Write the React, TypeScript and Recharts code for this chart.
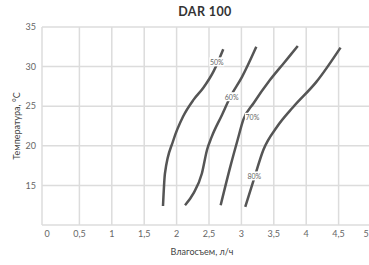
import React from 'react';
import { LineChart, Line, XAxis, YAxis, ReferenceLine, ReferenceDot } from 'recharts';

const xTicks = [0, 0.5, 1, 1.5, 2, 2.5, 3, 3.5, 4, 4.5, 5];
const yTicks = [15, 20, 25, 30, 35];
const gridX = [0.5, 1, 1.5, 2, 2.5, 3, 3.5, 4, 4.5];
const gridY = [15, 20, 25, 30, 35];

const rh50 = [
  { x: 1.79, y: 12.4 }, { x: 1.82, y: 16.5 }, { x: 1.95, y: 20.7 }, { x: 2.1, y: 23.7 },
  { x: 2.26, y: 25.8 }, { x: 2.41, y: 27.3 }, { x: 2.57, y: 29.4 }, { x: 2.72, y: 32.2 },
];
const rh60 = [
  { x: 2.13, y: 12.5 }, { x: 2.26, y: 14.0 }, { x: 2.39, y: 16.5 }, { x: 2.47, y: 19.5 },
  { x: 2.54, y: 21.1 }, { x: 2.7, y: 23.9 }, { x: 2.83, y: 26.2 }, { x: 3.01, y: 28.7 }, { x: 3.23, y: 32.5 },
];
const rh70 = [
  { x: 2.68, y: 12.5 }, { x: 2.83, y: 17.4 }, { x: 2.94, y: 20.7 }, { x: 3.03, y: 23.3 },
  { x: 3.19, y: 25.4 }, { x: 3.44, y: 28.3 }, { x: 3.65, y: 30.4 }, { x: 3.87, y: 32.6 },
];
const rh80 = [
  { x: 3.06, y: 12.3 }, { x: 3.19, y: 15.7 }, { x: 3.34, y: 19.5 }, { x: 3.55, y: 22.4 },
  { x: 3.8, y: 24.9 }, { x: 4.16, y: 28.1 }, { x: 4.53, y: 32.4 },
];
const series = [rh50, rh60, rh70, rh80];
const curveLabels = [
  { x: 2.62, y: 30.6, text: '50%' },
  { x: 2.85, y: 26.2, text: '60%' },
  { x: 3.17, y: 23.6, text: '70%' },
  { x: 3.2, y: 16.2, text: '80%' },
];

const FONT = 'Lato, "Open Sans", sans-serif';
const GRID = '#dcdcdc';
const fmt = (v: number) => String(v).replace('.', ',');

const LabelBox = (text: string) => (props: any) => {
  const { cx, cy } = props;
  const w = 15;
  const h = 9;
  return (
    <g>
      <rect x={cx - w / 2} y={cy - h / 2} width={w} height={h} fill="#fff" />
      <text x={cx} y={cy} textAnchor="middle" dominantBaseline="central" fontSize={7} fill="#666" fontFamily={FONT}>
        {text}
      </text>
    </g>
  );
};

const XTick = (props: any) => {
  const { x, y, payload } = props;
  const tx = Math.min(x, 366);
  return (
    <text x={tx} y={y} dy={8} textAnchor="middle" fontSize={9} fill="#666" fontFamily={FONT}>
      {fmt(payload.value)}
    </text>
  );
};

export default function App() {
  return (
    <div style={{ position: 'absolute', left: 0, top: 0, width: 369, height: 265, overflow: 'hidden', background: '#fff' }}>
      <div style={{ position: 'absolute', left: 0, width: 410, top: 4, textAlign: 'center', fontFamily: FONT, fontWeight: 700, fontSize: 12.5, color: '#333', letterSpacing: 0.4 }}>
        DAR 100
      </div>
      <div style={{ position: 'absolute', left: 0, width: 404, top: 246, textAlign: 'center', fontFamily: FONT, fontSize: 9, color: '#444' }}>
        Влагосъем, л/ч
      </div>
      <div style={{ position: 'absolute', left: 0, top: 0 }}>
        <LineChart width={372} height={265} margin={{ top: 27, right: 1, bottom: 0, left: 0 }}>
          <XAxis
            type="number"
            dataKey="x"
            domain={[0, 5]}
            ticks={xTicks}
            padding={{ left: 5, right: 0 }}
            axisLine={{ stroke: GRID, strokeWidth: 1.5 }}
            tickLine={false}
            tickSize={0}
            tickMargin={4}
            height={40}
            tick={<XTick />}
            interval={0}
            allowDataOverflow
          />
          <YAxis
            type="number"
            domain={[10, 35]}
            ticks={yTicks}
            width={42}
            axisLine={{ stroke: GRID, strokeWidth: 1.5 }}
            tickLine={false}
            tickSize={0}
            tickMargin={6}
            tick={{ fontSize: 9, fill: '#666', fontFamily: FONT }}
            label={{ value: 'Температура, °C', angle: -90, position: 'center', dx: -4, style: { fontSize: 9, fill: '#444', fontFamily: FONT, textAnchor: 'middle' } }}
            allowDataOverflow
          />
          {gridX.map((v) => (
            <ReferenceLine key={'gx' + v} x={v} stroke={GRID} strokeWidth={1.5} />
          ))}
          {gridY.map((v) => (
            <ReferenceLine key={'gy' + v} y={v} stroke={GRID} strokeWidth={1.5} />
          ))}
          {series.map((d, i) => (
            <Line
              key={i}
              data={d}
              dataKey="y"
              type="monotone"
              stroke="#555"
              strokeWidth={2.5}
              dot={false}
              isAnimationActive={false}
            />
          ))}
          {curveLabels.map((l) => (
            <ReferenceDot key={l.text} x={l.x} y={l.y} r={0} shape={LabelBox(l.text)} />
          ))}
        </LineChart>
      </div>
    </div>
  );
}
